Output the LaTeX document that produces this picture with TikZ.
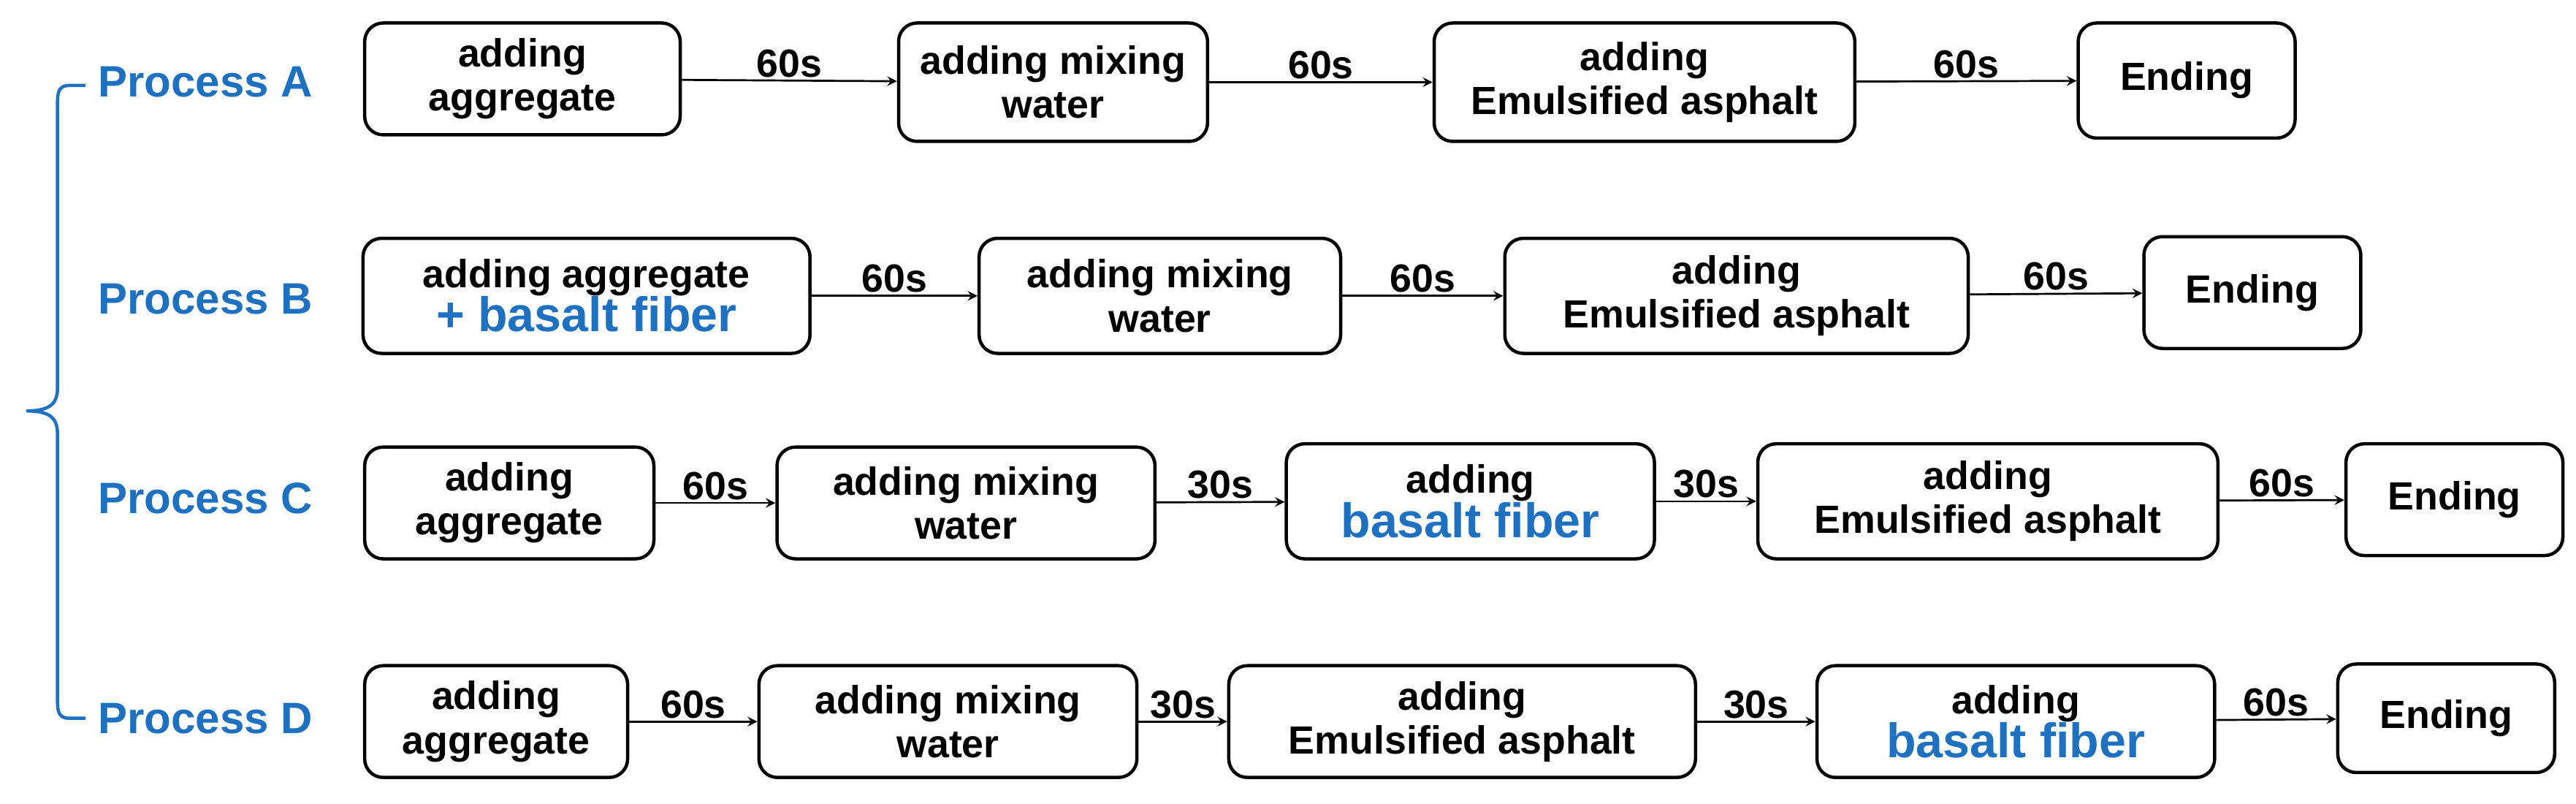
\documentclass[tikz,border=0pt]{standalone}
\usepackage{fontspec}
\setmainfont{Liberation Sans}
\definecolor{procblue}{RGB}{30,112,192}
\begin{document}
\begin{tikzpicture}[x=0.025cm, y=-0.025cm]
	\tikzset{
		stage/.style={
			draw,
			rounded corners=8pt,
			line width=0.5mm,
			align=center,
			inner sep=0pt,
			font=\fontsize{17}{19}\selectfont\bfseries
		},
		proc/.style={
			text=procblue,
			font=\fontsize{19}{21}\selectfont\bfseries
		},
		time/.style={
			font=\fontsize{17}{19}\selectfont\bfseries,
			inner sep=1pt
		},
		line/.style={
			->,
			>=stealth,
			line width=0.3mm
		}
	}
	\useasboundingbox (0,0) rectangle (1568,489);

	% process labels
	\node[proc] (pA) at (125, 50) {Process A};
	\node[proc] (pB) at (125, 182) {Process B};
	\node[proc] (pC) at (125, 303) {Process C};
	\node[proc] (pD) at (125, 437) {Process D};

	% brace
	\draw[procblue, line width=0.5mm]
		(52,52) -- (42,52) .. controls (36,52) and (35,56) .. (35,62)
		-- (35,236) .. controls (35,246) and (30,250) .. (16,250)
		.. controls (30,250) and (35,254) .. (35,264)
		-- (35,427) .. controls (35,433) and (36,437) .. (42,437) -- (52,437);

	% process A
	\node[stage, minimum width=4.8cm, minimum height=1.7cm] (a1) at (318, 48) {adding\\aggregate};
	\node[stage, minimum width=4.7cm, minimum height=1.8cm] (a2) at (641, 50) {adding mixing\\water};
	\node[stage, minimum width=6.4cm, minimum height=1.8cm] (a3) at (1001, 50) {adding\\Emulsified asphalt};
	\node[stage, minimum width=3.3cm, minimum height=1.75cm] (a4) at (1331, 49) {Ending};

	% process B
	\node[stage, minimum width=6.8cm, minimum height=1.75cm] (b1) at (357, 180) {adding aggregate\\{\fontsize{21}{23}\selectfont\color{procblue}+ basalt fiber}};
	\node[stage, minimum width=5.5cm, minimum height=1.75cm] (b2) at (706, 180) {adding mixing\\water};
	\node[stage, minimum width=7.05cm, minimum height=1.75cm] (b3) at (1057, 180) {adding\\Emulsified asphalt};
	\node[stage, minimum width=3.3cm, minimum height=1.7cm] (b4) at (1371, 178) {Ending};

	% process C
	\node[stage, minimum width=4.4cm, minimum height=1.7cm] (c1) at (310, 306) {adding\\aggregate};
	\node[stage, minimum width=5.75cm, minimum height=1.7cm] (c2) at (588, 306) {adding mixing\\water};
	\node[stage, minimum width=5.6cm, minimum height=1.75cm] (c3) at (895, 305) {adding\\{\fontsize{21}{23}\selectfont\color{procblue}basalt fiber}};
	\node[stage, minimum width=7cm, minimum height=1.75cm] (c4) at (1210, 305) {adding\\Emulsified asphalt};
	\node[stage, minimum width=3.3cm, minimum height=1.7cm] (c5) at (1494, 304) {Ending};

	% process D
	\node[stage, minimum width=4cm, minimum height=1.7cm] (d1) at (302, 439) {adding\\aggregate};
	\node[stage, minimum width=5.75cm, minimum height=1.7cm] (d2) at (577, 439) {adding mixing\\water};
	\node[stage, minimum width=7.1cm, minimum height=1.7cm] (d3) at (890, 439) {adding\\Emulsified asphalt};
	\node[stage, minimum width=6.05cm, minimum height=1.7cm] (d4) at (1227, 439) {adding\\{\fontsize{21}{23}\selectfont\color{procblue}basalt fiber}};
	\node[stage, minimum width=3.3cm, minimum height=1.65cm] (d5) at (1489, 437) {Ending};

	% connectors
	\draw[line] (a1) -- node[time, above] {60s} (a2);
	\draw[line] (a2) -- node[time, above] {60s} (a3);
	\draw[line] (a3) -- node[time, above] {60s} (a4);

	\draw[line] (b1) -- node[time, above] {60s} (b2);
	\draw[line] (b2) -- node[time, above] {60s} (b3);
	\draw[line] (b3) -- node[time, above] {60s} (b4);

	\draw[line] (c1) -- node[time, above] {60s} (c2);
	\draw[line] (c2) -- node[time, above] {30s} (c3);
	\draw[line] (c3) -- node[time, above] {30s} (c4);
	\draw[line] (c4) -- node[time, above] {60s} (c5);

	\draw[line] (d1) -- node[time, above] {60s} (d2);
	\draw[line] (d2) -- node[time, above] {30s} (d3);
	\draw[line] (d3) -- node[time, above] {30s} (d4);
	\draw[line] (d4) -- node[time, above] {60s} (d5);
\end{tikzpicture}
\end{document}
